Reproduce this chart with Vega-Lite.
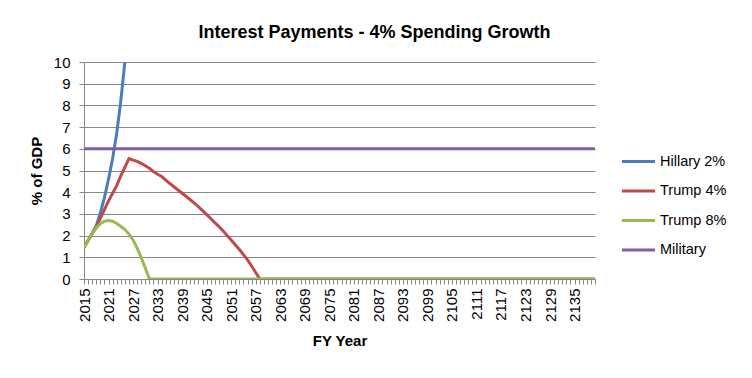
{
  "$schema": "https://vega.github.io/schema/vega-lite/v6.json",
  "width": 511,
  "height": 217,
  "autosize": {"type": "none"},
  "padding": {"left": 84, "top": 62, "right": 157, "bottom": 99},
  "background": "white",
  "config": {
    "view": {"stroke": null},
    "font": "Liberation Sans"
  },
  "title": {
    "text": "Interest Payments - 4% Spending Growth",
    "fontSize": 18,
    "fontWeight": "bold",
    "font": "Liberation Sans",
    "color": "black",
    "anchor": "middle",
    "dx": 35,
    "offset": 13
  },
  "data": {
    "values": [
      {"year": 2015, "Hillary 2%": 1.45, "Trump 4%": 1.45, "Trump 8%": 1.45, "Military": 6},
      {"year": 2016, "Hillary 2%": 1.78, "Trump 4%": 1.78, "Trump 8%": 1.76, "Military": 6},
      {"year": 2017, "Hillary 2%": 2.1, "Trump 4%": 2.1, "Trump 8%": 2.08, "Military": 6},
      {"year": 2018, "Hillary 2%": 2.45, "Trump 4%": 2.4, "Trump 8%": 2.35, "Military": 6},
      {"year": 2019, "Hillary 2%": 3.05, "Trump 4%": 2.8, "Trump 8%": 2.55, "Military": 6},
      {"year": 2020, "Hillary 2%": 3.75, "Trump 4%": 3.2, "Trump 8%": 2.66, "Military": 6},
      {"year": 2021, "Hillary 2%": 4.6, "Trump 4%": 3.6, "Trump 8%": 2.7, "Military": 6},
      {"year": 2022, "Hillary 2%": 5.55, "Trump 4%": 3.95, "Trump 8%": 2.66, "Military": 6},
      {"year": 2023, "Hillary 2%": 6.7, "Trump 4%": 4.3, "Trump 8%": 2.56, "Military": 6},
      {"year": 2024, "Hillary 2%": 8.2, "Trump 4%": 4.75, "Trump 8%": 2.43, "Military": 6},
      {"year": 2025, "Hillary 2%": 10.0, "Trump 4%": 5.15, "Trump 8%": 2.28, "Military": 6},
      {"year": 2026, "Hillary 2%": 12.0, "Trump 4%": 5.55, "Trump 8%": 2.07, "Military": 6},
      {"year": 2027, "Trump 4%": 5.48, "Trump 8%": 1.8, "Military": 6},
      {"year": 2028, "Trump 4%": 5.42, "Trump 8%": 1.42, "Military": 6},
      {"year": 2029, "Trump 4%": 5.33, "Trump 8%": 0.98, "Military": 6},
      {"year": 2030, "Trump 4%": 5.22, "Trump 8%": 0.5, "Military": 6},
      {"year": 2031, "Trump 4%": 5.1, "Trump 8%": 0, "Military": 6},
      {"year": 2032, "Trump 4%": 4.95, "Trump 8%": 0, "Military": 6},
      {"year": 2033, "Trump 4%": 4.83, "Trump 8%": 0, "Military": 6},
      {"year": 2034, "Trump 4%": 4.72, "Trump 8%": 0, "Military": 6},
      {"year": 2035, "Trump 4%": 4.56, "Trump 8%": 0, "Military": 6},
      {"year": 2036, "Trump 4%": 4.4, "Trump 8%": 0, "Military": 6},
      {"year": 2037, "Trump 4%": 4.25, "Trump 8%": 0, "Military": 6},
      {"year": 2038, "Trump 4%": 4.1, "Trump 8%": 0, "Military": 6},
      {"year": 2039, "Trump 4%": 3.95, "Trump 8%": 0, "Military": 6},
      {"year": 2040, "Trump 4%": 3.8, "Trump 8%": 0, "Military": 6},
      {"year": 2041, "Trump 4%": 3.65, "Trump 8%": 0, "Military": 6},
      {"year": 2042, "Trump 4%": 3.5, "Trump 8%": 0, "Military": 6},
      {"year": 2043, "Trump 4%": 3.33, "Trump 8%": 0, "Military": 6},
      {"year": 2044, "Trump 4%": 3.15, "Trump 8%": 0, "Military": 6},
      {"year": 2045, "Trump 4%": 2.97, "Trump 8%": 0, "Military": 6},
      {"year": 2046, "Trump 4%": 2.79, "Trump 8%": 0, "Military": 6},
      {"year": 2047, "Trump 4%": 2.6, "Trump 8%": 0, "Military": 6},
      {"year": 2048, "Trump 4%": 2.42, "Trump 8%": 0, "Military": 6},
      {"year": 2049, "Trump 4%": 2.22, "Trump 8%": 0, "Military": 6},
      {"year": 2050, "Trump 4%": 2.0, "Trump 8%": 0, "Military": 6},
      {"year": 2051, "Trump 4%": 1.8, "Trump 8%": 0, "Military": 6},
      {"year": 2052, "Trump 4%": 1.58, "Trump 8%": 0, "Military": 6},
      {"year": 2053, "Trump 4%": 1.36, "Trump 8%": 0, "Military": 6},
      {"year": 2054, "Trump 4%": 1.12, "Trump 8%": 0, "Military": 6},
      {"year": 2055, "Trump 4%": 0.88, "Trump 8%": 0, "Military": 6},
      {"year": 2056, "Trump 4%": 0.6, "Trump 8%": 0, "Military": 6},
      {"year": 2057, "Trump 4%": 0.3, "Trump 8%": 0, "Military": 6},
      {"year": 2058, "Trump 4%": 0, "Trump 8%": 0, "Military": 6},
      {"year": 2059, "Trump 4%": 0, "Trump 8%": 0, "Military": 6},
      {"year": 2060, "Trump 4%": 0, "Trump 8%": 0, "Military": 6},
      {"year": 2061, "Trump 4%": 0, "Trump 8%": 0, "Military": 6},
      {"year": 2062, "Trump 4%": 0, "Trump 8%": 0, "Military": 6},
      {"year": 2063, "Trump 4%": 0, "Trump 8%": 0, "Military": 6},
      {"year": 2064, "Trump 4%": 0, "Trump 8%": 0, "Military": 6},
      {"year": 2065, "Trump 4%": 0, "Trump 8%": 0, "Military": 6},
      {"year": 2066, "Trump 4%": 0, "Trump 8%": 0, "Military": 6},
      {"year": 2067, "Trump 4%": 0, "Trump 8%": 0, "Military": 6},
      {"year": 2068, "Trump 4%": 0, "Trump 8%": 0, "Military": 6},
      {"year": 2069, "Trump 4%": 0, "Trump 8%": 0, "Military": 6},
      {"year": 2070, "Trump 4%": 0, "Trump 8%": 0, "Military": 6},
      {"year": 2071, "Trump 4%": 0, "Trump 8%": 0, "Military": 6},
      {"year": 2072, "Trump 4%": 0, "Trump 8%": 0, "Military": 6},
      {"year": 2073, "Trump 4%": 0, "Trump 8%": 0, "Military": 6},
      {"year": 2074, "Trump 4%": 0, "Trump 8%": 0, "Military": 6},
      {"year": 2075, "Trump 4%": 0, "Trump 8%": 0, "Military": 6},
      {"year": 2076, "Trump 4%": 0, "Trump 8%": 0, "Military": 6},
      {"year": 2077, "Trump 4%": 0, "Trump 8%": 0, "Military": 6},
      {"year": 2078, "Trump 4%": 0, "Trump 8%": 0, "Military": 6},
      {"year": 2079, "Trump 4%": 0, "Trump 8%": 0, "Military": 6},
      {"year": 2080, "Trump 4%": 0, "Trump 8%": 0, "Military": 6},
      {"year": 2081, "Trump 4%": 0, "Trump 8%": 0, "Military": 6},
      {"year": 2082, "Trump 4%": 0, "Trump 8%": 0, "Military": 6},
      {"year": 2083, "Trump 4%": 0, "Trump 8%": 0, "Military": 6},
      {"year": 2084, "Trump 4%": 0, "Trump 8%": 0, "Military": 6},
      {"year": 2085, "Trump 4%": 0, "Trump 8%": 0, "Military": 6},
      {"year": 2086, "Trump 4%": 0, "Trump 8%": 0, "Military": 6},
      {"year": 2087, "Trump 4%": 0, "Trump 8%": 0, "Military": 6},
      {"year": 2088, "Trump 4%": 0, "Trump 8%": 0, "Military": 6},
      {"year": 2089, "Trump 4%": 0, "Trump 8%": 0, "Military": 6},
      {"year": 2090, "Trump 4%": 0, "Trump 8%": 0, "Military": 6},
      {"year": 2091, "Trump 4%": 0, "Trump 8%": 0, "Military": 6},
      {"year": 2092, "Trump 4%": 0, "Trump 8%": 0, "Military": 6},
      {"year": 2093, "Trump 4%": 0, "Trump 8%": 0, "Military": 6},
      {"year": 2094, "Trump 4%": 0, "Trump 8%": 0, "Military": 6},
      {"year": 2095, "Trump 4%": 0, "Trump 8%": 0, "Military": 6},
      {"year": 2096, "Trump 4%": 0, "Trump 8%": 0, "Military": 6},
      {"year": 2097, "Trump 4%": 0, "Trump 8%": 0, "Military": 6},
      {"year": 2098, "Trump 4%": 0, "Trump 8%": 0, "Military": 6},
      {"year": 2099, "Trump 4%": 0, "Trump 8%": 0, "Military": 6},
      {"year": 2100, "Trump 4%": 0, "Trump 8%": 0, "Military": 6},
      {"year": 2101, "Trump 4%": 0, "Trump 8%": 0, "Military": 6},
      {"year": 2102, "Trump 4%": 0, "Trump 8%": 0, "Military": 6},
      {"year": 2103, "Trump 4%": 0, "Trump 8%": 0, "Military": 6},
      {"year": 2104, "Trump 4%": 0, "Trump 8%": 0, "Military": 6},
      {"year": 2105, "Trump 4%": 0, "Trump 8%": 0, "Military": 6},
      {"year": 2106, "Trump 4%": 0, "Trump 8%": 0, "Military": 6},
      {"year": 2107, "Trump 4%": 0, "Trump 8%": 0, "Military": 6},
      {"year": 2108, "Trump 4%": 0, "Trump 8%": 0, "Military": 6},
      {"year": 2109, "Trump 4%": 0, "Trump 8%": 0, "Military": 6},
      {"year": 2110, "Trump 4%": 0, "Trump 8%": 0, "Military": 6},
      {"year": 2111, "Trump 4%": 0, "Trump 8%": 0, "Military": 6},
      {"year": 2112, "Trump 4%": 0, "Trump 8%": 0, "Military": 6},
      {"year": 2113, "Trump 4%": 0, "Trump 8%": 0, "Military": 6},
      {"year": 2114, "Trump 4%": 0, "Trump 8%": 0, "Military": 6},
      {"year": 2115, "Trump 4%": 0, "Trump 8%": 0, "Military": 6},
      {"year": 2116, "Trump 4%": 0, "Trump 8%": 0, "Military": 6},
      {"year": 2117, "Trump 4%": 0, "Trump 8%": 0, "Military": 6},
      {"year": 2118, "Trump 4%": 0, "Trump 8%": 0, "Military": 6},
      {"year": 2119, "Trump 4%": 0, "Trump 8%": 0, "Military": 6},
      {"year": 2120, "Trump 4%": 0, "Trump 8%": 0, "Military": 6},
      {"year": 2121, "Trump 4%": 0, "Trump 8%": 0, "Military": 6},
      {"year": 2122, "Trump 4%": 0, "Trump 8%": 0, "Military": 6},
      {"year": 2123, "Trump 4%": 0, "Trump 8%": 0, "Military": 6},
      {"year": 2124, "Trump 4%": 0, "Trump 8%": 0, "Military": 6},
      {"year": 2125, "Trump 4%": 0, "Trump 8%": 0, "Military": 6},
      {"year": 2126, "Trump 4%": 0, "Trump 8%": 0, "Military": 6},
      {"year": 2127, "Trump 4%": 0, "Trump 8%": 0, "Military": 6},
      {"year": 2128, "Trump 4%": 0, "Trump 8%": 0, "Military": 6},
      {"year": 2129, "Trump 4%": 0, "Trump 8%": 0, "Military": 6},
      {"year": 2130, "Trump 4%": 0, "Trump 8%": 0, "Military": 6},
      {"year": 2131, "Trump 4%": 0, "Trump 8%": 0, "Military": 6},
      {"year": 2132, "Trump 4%": 0, "Trump 8%": 0, "Military": 6},
      {"year": 2133, "Trump 4%": 0, "Trump 8%": 0, "Military": 6},
      {"year": 2134, "Trump 4%": 0, "Trump 8%": 0, "Military": 6},
      {"year": 2135, "Trump 4%": 0, "Trump 8%": 0, "Military": 6},
      {"year": 2136, "Trump 4%": 0, "Trump 8%": 0, "Military": 6},
      {"year": 2137, "Trump 4%": 0, "Trump 8%": 0, "Military": 6},
      {"year": 2138, "Trump 4%": 0, "Trump 8%": 0, "Military": 6},
      {"year": 2139, "Trump 4%": 0, "Trump 8%": 0, "Military": 6},
      {"year": 2140, "Trump 4%": 0, "Trump 8%": 0, "Military": 6}
    ]
  },
  "transform": [
    {"fold": ["Hillary 2%", "Trump 4%", "Trump 8%", "Military"], "as": ["series", "value"]},
    {"filter": "isValid(datum.value)"}
  ],
  "mark": {"type": "line", "strokeWidth": 3, "clip": true},
  "encoding": {
    "x": {
      "field": "year",
      "type": "quantitative",
      "scale": {"domain": [2015, 2140], "nice": false, "zero": false},
      "axis": {
        "title": "FY Year",
        "titleFontSize": 15,
        "titleFontWeight": "bold",
        "titleColor": "black",
        "titlePadding": 12,
        "values": [2015,2016,2017,2018,2019,2020,2021,2022,2023,2024,2025,2026,2027,2028,2029,2030,2031,2032,2033,2034,2035,2036,2037,2038,2039,2040,2041,2042,2043,2044,2045,2046,2047,2048,2049,2050,2051,2052,2053,2054,2055,2056,2057,2058,2059,2060,2061,2062,2063,2064,2065,2066,2067,2068,2069,2070,2071,2072,2073,2074,2075,2076,2077,2078,2079,2080,2081,2082,2083,2084,2085,2086,2087,2088,2089,2090,2091,2092,2093,2094,2095,2096,2097,2098,2099,2100,2101,2102,2103,2104,2105,2106,2107,2108,2109,2110,2111,2112,2113,2114,2115,2116,2117,2118,2119,2120,2121,2122,2123,2124,2125,2126,2127,2128,2129,2130,2131,2132,2133,2134,2135,2136,2137,2138,2139,2140],
        "format": "d",
        "labelExpr": "(datum.value - 2015) % 6 == 0 ? datum.label : ''",
        "labelAngle": -90,
        "labelFontSize": 15,
        "labelColor": "black",
        "labelPadding": 4,
        "labelOverlap": false,
        "labelBound": false,
        "labelFlush": false,
        "grid": false,
        "tickSize": 5,
        "tickColor": "#868686",
        "domainColor": "#868686"
      }
    },
    "y": {
      "field": "value",
      "type": "quantitative",
      "scale": {"domain": [0, 10], "nice": false},
      "axis": {
        "title": "% of GDP",
        "titleFontSize": 15,
        "titleFontWeight": "bold",
        "titleColor": "black",
        "titlePadding": 9,
        "values": [0,1,2,3,4,5,6,7,8,9,10],
        "labelFontSize": 15,
        "labelColor": "black",
        "labelPadding": 9,
        "grid": true,
        "gridColor": "#868686",
        "gridOpacity": 1,
        "tickSize": 5,
        "tickColor": "#868686",
        "domainColor": "#868686"
      }
    },
    "color": {
      "field": "series",
      "type": "nominal",
      "scale": {
        "domain": ["Hillary 2%", "Trump 4%", "Trump 8%", "Military"],
        "range": ["#4A7EBB", "#BE4B48", "#98B954", "#7D60A0"]
      },
      "legend": {
        "orient": "none",
        "legendX": 536,
        "legendY": 81,
        "title": null,
        "symbolType": "stroke",
        "symbolSize": 1100,
        "symbolStrokeWidth": 3,
        "labelFontSize": 14.5,
        "labelColor": "black",
        "labelOffset": 3,
        "rowPadding": 4.5
      }
    }
  }
}
